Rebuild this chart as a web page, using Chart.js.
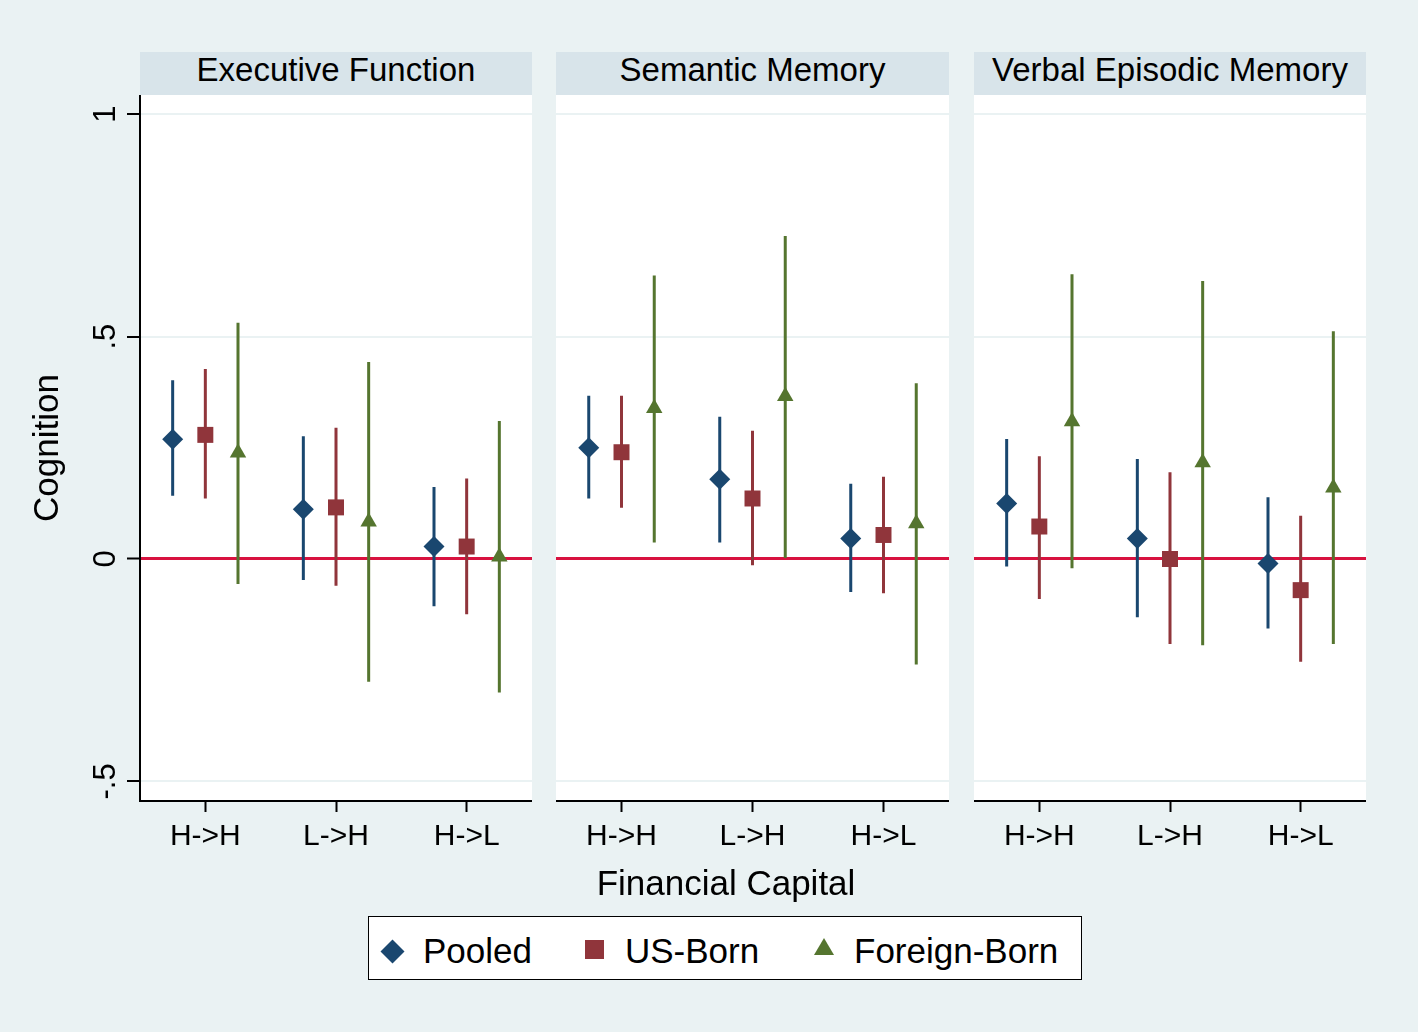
<!DOCTYPE html>
<html lang="en">
<head>
<meta charset="UTF-8">
<title>Cognition by Financial Capital</title>
<script src="https://cdn.jsdelivr.net/npm/chart.js"></script>
<style>
    body {
        margin: 0;
        background-color: #eaf2f3;
        font-family: "Liberation Sans", Arial, sans-serif;
    }
    .page {
        position: relative;
        width: 1418px;
        height: 1032px;
        overflow: hidden;
        background-color: #eaf2f3;
    }
    .strip {
        position: absolute;
        top: 52px;
        height: 43px;
        background-color: #d8e4ea;
        font-size: 33px;
        line-height: 35px;
        text-align: center;
        color: #000;
    }
    .panel {
        position: absolute;
        top: 95px;
        height: 770px;
    }
    .xtitle {
        position: absolute;
        left: 426px;
        width: 600px;
        top: 863px;
        font-size: 35px;
        line-height: 40px;
        text-align: center;
    }
    .legend {
        position: absolute;
        left: 368px;
        top: 916px;
        width: 714px;
        height: 64px;
        box-sizing: border-box;
        background: #fff;
        border: 1px solid #000;
    }
    .legend span {
        position: absolute;
        top: 14px;
        font-size: 35px;
        line-height: 40px;
        white-space: nowrap;
    }
    .sym { position: absolute; }
    .diamond { width: 17px; height: 17px; background: #1a476f; transform: rotate(45deg); left: 15px; top: 26px; }
    .square { width: 19px; height: 19px; background: #90353b; left: 216px; top: 23px; }
    .triangle { width: 0; height: 0; border-left: 10.5px solid transparent; border-right: 10.5px solid transparent; border-bottom: 17px solid #55752f; left: 445px; top: 21px; }
</style>
</head>
<body>
<div class="page">
    <div class="strip" style="left:140px;width:392px;" id="t0"></div>
    <div class="strip" style="left:556px;width:393px;" id="t1"></div>
    <div class="strip" style="left:974px;width:392px;" id="t2"></div>

    <div class="panel" style="left:0px;width:532px;"><canvas id="c0"></canvas></div>
    <div class="panel" style="left:556px;width:393px;"><canvas id="c1"></canvas></div>
    <div class="panel" style="left:974px;width:392px;"><canvas id="c2"></canvas></div>

    <div class="xtitle">Financial Capital</div>

    <div class="legend">
        <div class="sym diamond"></div><span style="left:54px;">Pooled</span>
        <div class="sym square"></div><span style="left:256px;">US-Born</span>
        <div class="sym triangle"></div><span style="left:485px;">Foreign-Born</span>
    </div>
</div>

<script>
    const panelTitles = ['Executive Function', 'Semantic Memory', 'Verbal Episodic Memory'];
    const categories = ['H->H', 'L->H', 'H->L'];
    const seriesNames = ['Pooled', 'US-Born', 'Foreign-Born'];
    const yTickValues = [-0.5, 0, 0.5, 1];
    const yTickLabels = ['-.5', '0', '.5', '1'];

    // one row per panel, one value per category
    const pooledEst = [[0.269, 0.112, 0.028], [0.250, 0.179, 0.046], [0.125, 0.046, -0.010]];
    const pooledLo  = [[0.142, -0.047, -0.106], [0.136, 0.037, -0.074], [-0.017, -0.131, -0.156]];
    const pooledHi  = [[0.402, 0.276, 0.162], [0.367, 0.320, 0.169], [0.270, 0.225, 0.139]];

    const usEst = [[0.279, 0.116, 0.028], [0.240, 0.136, 0.054], [0.073, 0.000, -0.070]];
    const usLo  = [[0.136, -0.060, -0.124], [0.115, -0.014, -0.077], [-0.090, -0.191, -0.231]];
    const usHi  = [[0.427, 0.295, 0.181], [0.367, 0.288, 0.185], [0.231, 0.195, 0.097]];

    const fbEst = [[0.239, 0.084, 0.005], [0.339, 0.366, 0.080], [0.309, 0.217, 0.160]];
    const fbLo  = [[-0.056, -0.276, -0.300], [0.037, 0.002, -0.237], [-0.021, -0.194, -0.191]];
    const fbHi  = [[0.531, 0.443, 0.310], [0.637, 0.726, 0.395], [0.640, 0.625, 0.512]];

    const series = [
        { est: pooledEst, lo: pooledLo, hi: pooledHi, color: '#1a476f', style: 'rectRot', radius: 10.5, offset: -0.25 },
        { est: usEst, lo: usLo, hi: usHi, color: '#90353b', style: 'rect', radius: 11.3, offset: 0 },
        { est: fbEst, lo: fbLo, hi: fbHi, color: '#55752f', style: 'triangle', radius: 9.5, offset: 0.25 }
    ];

    const FONT = '"Liberation Sans", Arial, sans-serif';

    // white plot region
    const plotBg = {
        id: 'plotBg',
        beforeDraw(chart) {
            const a = chart.chartArea, ctx = chart.ctx;
            ctx.save();
            ctx.fillStyle = '#ffffff';
            ctx.fillRect(a.left, a.top, a.right - a.left, a.bottom - a.top);
            ctx.restore();
        }
    };

    // vertical y tick labels (Stata style)
    const yLabels = {
        id: 'yLabels',
        afterDraw(chart) {
            const ctx = chart.ctx, y = chart.scales.y;
            ctx.save();
            ctx.font = '31px ' + FONT;
            ctx.fillStyle = '#000';
            ctx.textAlign = 'center';
            ctx.textBaseline = 'alphabetic';
            yTickValues.forEach((v, k) => {
                ctx.save();
                ctx.translate(114.5, y.getPixelForValue(v));
                ctx.rotate(-Math.PI / 2);
                ctx.fillText(yTickLabels[k], 0, 0);
                ctx.restore();
            });
            ctx.restore();
        }
    };

    function buildDatasets(p) {
        const sets = [];
        series.forEach((s, k) => {
            const whisk = [];
            categories.forEach((c, j) => {
                const x = j + 1 + s.offset;
                whisk.push({ x: x, y: s.lo[p][j] }, { x: x, y: s.hi[p][j] }, { x: x, y: null });
            });
            sets.push({
                label: seriesNames[k] + ' CI',
                data: whisk,
                showLine: true,
                spanGaps: false,
                borderColor: s.color,
                borderWidth: 3,
                pointRadius: 0,
                order: 2
            });
            sets.push({
                label: seriesNames[k],
                data: s.est[p].map((v, j) => ({ x: j + 1 + s.offset, y: v })),
                pointStyle: s.style,
                pointRadius: s.radius,
                backgroundColor: s.color,
                borderWidth: 0,
                order: 1
            });
        });
        return sets;
    }

    function makeChart(p) {
        const first = p === 0;
        const ctx = document.getElementById('c' + p);
        document.getElementById('t' + p).textContent = panelTitles[p];
        return new Chart(ctx, {
            type: 'scatter',
            data: { datasets: buildDatasets(p) },
            options: {
                responsive: true,
                maintainAspectRatio: false,
                animation: false,
                events: [],
                layout: { padding: 0, autoPadding: false },
                plugins: {
                    legend: { display: false },
                    tooltip: { enabled: false }
                },
                scales: {
                    x: {
                        type: 'linear',
                        min: 0.5,
                        max: 3.5,
                        afterBuildTicks: (s) => { s.ticks = [1, 2, 3].map(v => ({ value: v })); },
                        afterFit: (s) => { s.height = 64; },
                        border: { display: true, color: '#000', width: 2 },
                        grid: { drawOnChartArea: false, drawTicks: true, tickLength: 11, tickColor: '#000', tickWidth: 2 },
                        ticks: {
                            padding: 7,
                            color: '#000',
                            font: { family: FONT, size: 30 },
                            maxRotation: 0,
                            callback: (v) => categories[v - 1]
                        }
                    },
                    y: {
                        min: -0.544,
                        max: 1.043,
                        afterBuildTicks: (s) => { s.ticks = yTickValues.map(v => ({ value: v })); },
                        afterFit: (s) => { s.width = first ? 140 : 0; },
                        border: { display: first, color: '#000', width: 2 },
                        grid: {
                            drawTicks: first,
                            tickLength: 13,
                            tickColor: '#000',
                            tickWidth: 2,
                            color: (c) => c.tick && c.tick.value === 0 ? '#d8123f' : '#eaf2f3',
                            lineWidth: (c) => c.tick && c.tick.value === 0 ? 3 : 2
                        },
                        ticks: { display: false },
                        title: {
                            display: first,
                            text: 'Cognition',
                            color: '#000',
                            font: { family: FONT, size: 35 },
                            padding: { top: 27, bottom: 0 }
                        }
                    }
                }
            },
            plugins: first ? [plotBg, yLabels] : [plotBg]
        });
    }

    [0, 1, 2].forEach(makeChart);
</script>
</body>
</html>
